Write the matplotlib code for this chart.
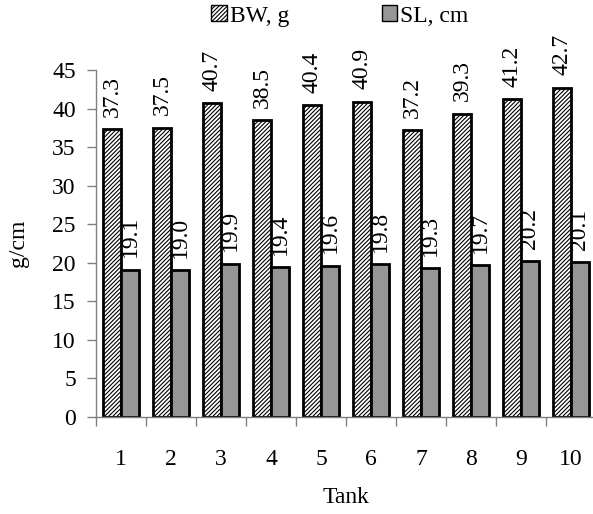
import matplotlib
matplotlib.use("Agg")
import matplotlib.pyplot as plt
import numpy as np
from matplotlib.patches import Patch

tanks = ["1", "2", "3", "4", "5", "6", "7", "8", "9", "10"]
bw = [37.3, 37.5, 40.7, 38.5, 40.4, 40.9, 37.2, 39.3, 41.2, 42.7]
sl = [19.1, 19.0, 19.9, 19.4, 19.6, 19.8, 19.3, 19.7, 20.2, 20.1]
yticks = [0, 5, 10, 15, 20, 25, 30, 35, 40, 45]

plt.rcParams['font.family'] = ['Liberation Serif', 'DejaVu Serif']
plt.rcParams['hatch.linewidth'] = 0.8

FS = 17
W, H = 593, 514
fig = plt.figure(figsize=(W/100, H/100), dpi=100)
ax = fig.add_axes([96/W, 1-417/H, 500/W, (417-70)/H])

x = np.arange(len(tanks))
w = 0.36
ax.bar(x - w/2, bw, w, color='white', edgecolor='black', linewidth=2, hatch='////////')
ax.bar(x + w/2, sl, w, color='#969696', edgecolor='black', linewidth=2)

for xi, v in zip(x - w/2, bw):
    ax.annotate(f"{v:.1f}", (xi, v), xytext=(0, 9), textcoords='offset points',
                rotation=90, ha='center', va='bottom', fontsize=FS)
for xi, v in zip(x + w/2, sl):
    ax.annotate(f"{v:.1f}", (xi, v), xytext=(0, 9), textcoords='offset points',
                rotation=90, ha='center', va='bottom', fontsize=FS)

ax.set_xlim(-0.5, len(tanks) - 0.5)
ax.set_ylim(0, 45)
ax.set_yticks(yticks)
ax.set_xticks(x)
ax.set_xticklabels(tanks)
ax.set_xticks(np.arange(len(tanks) + 1) - 0.5, minor=True)
ax.tick_params(axis='x', which='major', length=0, pad=23, labelsize=FS)
ax.tick_params(axis='x', which='minor', length=6.5, width=1, color='#808080', direction='out')
ax.tick_params(axis='y', length=6.5, width=1, color='#808080', labelsize=FS, pad=8)

for s in ['top', 'right']:
    ax.spines[s].set_visible(False)
for s in ['left', 'bottom']:
    ax.spines[s].set_color('#808080')
    ax.spines[s].set_linewidth(1)

ax.set_ylabel("g/cm", fontsize=FS, labelpad=17)
ax.set_xlabel("Tank", fontsize=FS, labelpad=12)

handles = [Patch(facecolor='white', edgecolor='black', hatch='////////', linewidth=1),
           Patch(facecolor='#969696', edgecolor='black', linewidth=1)]
fig.legend(handles, ["BW, g", "SL, cm"], loc='center', bbox_to_anchor=(340/W, 1-16/H),
           ncol=2, frameon=False, fontsize=FS, handlelength=0.65, handleheight=0.65,
           handletextpad=0.15, columnspacing=3.9, borderaxespad=0)

fig.savefig("out.png", dpi=100)
